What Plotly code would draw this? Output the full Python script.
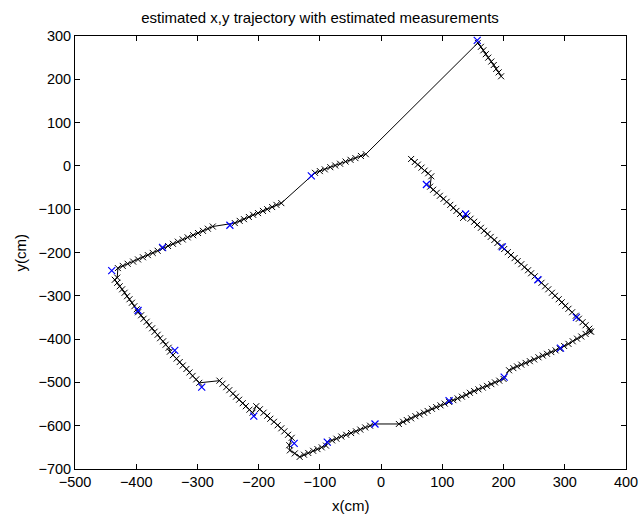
import plotly.graph_objects as go

# Estimated trajectory (x, y in cm), in path order
traj_x = [
    49, 55, 60, 66, 71, 77, 82,
    80, 85, 91, 96, 102, 107, 113, 118, 123, 129, 134,
    141, 146, 152, 157, 163, 168, 174, 179, 185, 190, 196,
    201, 207, 212, 218, 223, 229, 234, 240, 245, 251, 257,
    262, 268, 273, 279, 284, 290, 295, 301, 306, 312, 318,
    323, 329, 334, 340, 343,
    341, 334, 327, 320, 313, 306, 299, 292,
    285, 278, 271, 264, 257, 250, 243, 236, 229, 222, 216, 209,
    200,
    193, 186, 180, 173, 166, 159, 152, 145, 139, 132, 125, 118, 111,
    104, 97, 90, 83, 76, 70, 63, 56, 49, 42, 36, 29,
    -10, -18, -26, -34, -41, -49, -57, -65, -73, -80, -88,
    -90, -97, -104, -111, -119, -126, -133,
    -141, -149, -150,
    -146, -152, -158, -163, -169, -175, -181, -186, -192, -198, -204,
    -210, -215, -221, -226, -232, -237, -242, -248, -253, -259, -264,
    -297, -302, -308, -313, -318, -324, -329, -334, -340, -345,
    -347, -352, -356, -361, -365, -370, -374, -379, -383, -388, -392, -397,
    -399, -403, -407, -411, -415, -419, -423, -427, -431, -435,
    -431, -430,
    -422, -414, -405, -397, -389, -381, -373, -365, -357, -348,
    -340, -332, -324, -316, -307, -299, -291, -283, -275,
    -239, -231, -224, -216, -209, -201, -193, -186, -178, -171, -163,
    -108, -100, -92, -83, -75, -67, -58, -50, -42, -33, -25,
    158, 163, 167, 171, 175, 180, 184, 188, 192, 196,
]
traj_y = [
    16, 9, 3, -4, -11, -17, -24,
    -48, -55, -62, -69, -76, -83, -90, -97, -104, -111, -120,
    -115, -122, -129, -136, -143, -150, -157, -164, -171, -178, -186,
    -192, -199, -206, -213, -220, -227, -234, -241, -248, -255, -263,
    -270, -278, -285, -293, -300, -308, -315, -323, -330, -338, -346,
    -353, -361, -368, -376, -383,
    -382, -388, -394, -399, -405, -411, -416, -422,
    -426, -430, -434, -438, -442, -447, -451, -455, -459, -463, -467, -472,
    -492,
    -496, -500, -504, -508, -512, -516, -520, -524, -529, -533, -537, -541, -545,
    -549, -553, -557, -561, -566, -570, -574, -578, -583, -587, -591, -596,
    -596, -600, -604, -609, -613, -617, -621, -625, -630, -634, -638,
    -646, -650, -654, -658, -663, -667, -672,
    -664, -657, -645,
    -628, -621, -613, -606, -599, -591, -584, -577, -570, -562, -555,
    -570, -563, -555, -548, -540, -533, -526, -518, -511, -503, -496,
    -501, -493, -485, -477, -469, -461, -453, -445, -437, -429,
    -420, -413, -405, -398, -390, -383, -375, -368, -360, -353, -345, -338,
    -331, -324, -316, -308, -301, -293, -285, -278, -270, -263,
    -258, -236,
    -231, -226, -221, -216, -211, -206, -201, -196, -190, -185,
    -180, -175, -170, -165, -160, -155, -150, -145, -140,
    -132, -127, -123, -118, -113, -109, -104, -100, -95, -90, -86,
    -16, -12, -8, -3, 1, 5, 10, 14, 18, 23, 27,
    284, 275, 267, 258, 250, 241, 233, 224, 216, 207,
]

# Estimated measurements (x, y in cm)
meas_x = [74, 138, 198, 256, 319, 293, 201, 111, -10, -88, -142, -208,
          -293, -337, -397, -440, -357, -247, -114, 157]
meas_y = [-43, -111, -187, -263, -350, -421, -488, -542, -596, -638, -641, -578,
          -511, -426, -334, -242, -188, -137, -23, 290]

title_text = "estimated x,y trajectory with estimated measurements"
x_label = "x(cm)"
y_label = "y(cm)"
x_ticks = [-500, -400, -300, -200, -100, 0, 100, 200, 300, 400]
y_ticks = [-700, -600, -500, -400, -300, -200, -100, 0, 100, 200, 300]

fig = go.Figure()
fig.add_trace(go.Scatter(
    x=traj_x, y=traj_y, mode="lines+markers",
    line=dict(color="black", width=1),
    marker=dict(symbol="x-thin", size=6, line=dict(color="black", width=1)),
    showlegend=False,
))
fig.add_trace(go.Scatter(
    x=meas_x, y=meas_y, mode="markers",
    marker=dict(symbol="x-thin", size=7, line=dict(color="blue", width=1.2)),
    showlegend=False,
))

font_family = "Liberation Sans, Arial, sans-serif"
txt_font = dict(family=font_family, size=15, color="black")
axis_common = dict(
    showgrid=False, zeroline=False, showline=True, linecolor="black", linewidth=1,
    mirror="ticks", ticks="inside", ticklen=5, tickcolor="black", automargin=False,
    tickfont=dict(family=font_family, size=14.5, color="black"),
)
fig.update_layout(
    width=640, height=518,
    margin=dict(l=75, r=14, t=36, b=49),
    paper_bgcolor="white", plot_bgcolor="white",
    title=dict(text=title_text, x=0.5, xanchor="center", y=0.965, yanchor="middle",
               font=txt_font),
    xaxis=dict(range=[-500, 400], tickvals=x_ticks, **axis_common),
    yaxis=dict(range=[-700, 300], tickvals=y_ticks, **axis_common),
    annotations=[
        dict(text=x_label, xref="paper", yref="paper", x=0.5, y=0,
             xanchor="center", yanchor="middle", yshift=-36, showarrow=False,
             font=txt_font),
        dict(text=y_label, xref="paper", yref="paper", x=0, y=0.5,
             xanchor="center", yanchor="middle", xshift=-55, textangle=-90,
             showarrow=False, font=txt_font),
    ],
)
fig.write_html(
    "out.html",
    config={"displayModeBar": False},
    post_script="document.body.style.margin='0';document.body.style.overflow='hidden';",
)
